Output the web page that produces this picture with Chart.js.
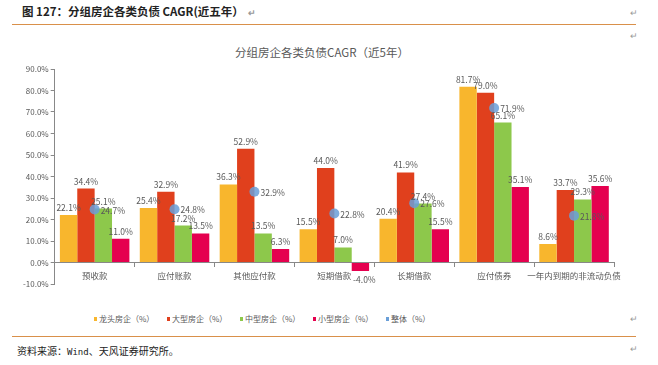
<!DOCTYPE html>
<html>
<head>
<meta charset="utf-8">
<script src="https://cdn.jsdelivr.net/npm/chart.js@4"></script>
<style>
  body { margin: 0; width: 658px; height: 365px; background: #fff; position: relative; overflow: hidden;
         font-family: "Noto Sans CJK SC", "Noto Sans", sans-serif; }
  .abs { position: absolute; }
  #head { left: 22px; top: 3px; font-size: 11.5px; font-weight: bold; color: #222; white-space: nowrap; }
  .ret { color: #999; font-size: 9px; }
  .rule { left: 12px; width: 624px; height: 1px; background: #D9904A; }
  #ctitle { left: 0; width: 644px; top: 44px; text-align: center; font-size: 11.5px; color: #595959; }
  #legend { top: 313px; left: 94px; display: flex; font-size: 8px; color: #595959; }
  #legend span.item { width: 73px; white-space: nowrap; }
  #legend i { display: inline-block; width: 3px; height: 4px; margin-right: 2px; vertical-align: 1px; }
  #src { left: 17px; top: 343px; font-size: 10px; color: #222; white-space: nowrap; }
  #src .m { font-family: "DejaVu Sans Mono", monospace; font-size: 9px; }
  #wrap { left: 0; top: 60px; width: 658px; height: 240px; }
</style>
</head>
<body>
<div id="head" class="abs">图 127：分组房企各类负债 CAGR(近五年）<span class="ret">&nbsp;&nbsp;↵</span></div>
<div class="abs ret" style="left:630px;top:6px">↵</div>
<div class="abs rule" style="top:24px"></div>
<div class="abs ret" style="left:630px;top:29px">↵</div>
<div id="ctitle" class="abs">分组房企各类负债CAGR（近5年）</div>
<div id="wrap" class="abs"><canvas id="myChart"></canvas></div>
<div id="legend" class="abs"></div>
<div class="abs ret" style="left:630px;top:312px">↵</div>
<div class="abs rule" style="top:336px"></div>
<div id="src" class="abs">资料来源：<span class="m">Wind</span>、天风证券研究所。</div>
<div class="abs ret" style="left:630px;top:342px">↵</div>
<script>
var categories = ['预收款', '应付账款', '其他应付款', '短期借款', '长期借款', '应付债券', '一年内到期的非流动负债'];
var seriesNames = ['龙头房企（%）', '大型房企（%）', '中型房企（%）', '小型房企（%）', '整体（%）'];
var leaders = [22.1, 25.4, 36.3, 15.5, 20.4, 81.7, 8.6];
var large = [34.4, 32.9, 52.9, 44.0, 41.9, 79.0, 33.7];
var medium = [25.1, 17.2, 13.5, 7.0, 27.4, 65.1, 29.3];
var small = [11.0, 13.5, 6.3, -4.0, 15.5, 35.1, 35.6];
var overall = [24.7, 24.8, 32.9, 22.8, 27.6, 71.9, 21.8];
var yTicks = [-10, 0, 10, 20, 30, 40, 50, 60, 70, 80, 90];

var colors = ['#F8B62D', '#E0401D', '#8DC84B', '#E5004F', '#6A9FD8'];
var labelColor = '#595959';

var valueLabels = {
    id: 'valueLabels',
    afterDatasetsDraw: function (chart) {
        var ctx = chart.ctx;
        ctx.save();
        ctx.font = '8.5px "Noto Sans CJK SC", sans-serif';
        ctx.fillStyle = labelColor;
        chart.data.datasets.forEach(function (ds, i) {
            var meta = chart.getDatasetMeta(i);
            meta.data.forEach(function (el, j) {
                var v = ds.data[j];
                var txt = v.toFixed(1) + '%';
                if (ds.type === 'line') {
                    ctx.textAlign = 'left';
                    ctx.textBaseline = 'middle';
                    ctx.fillText(txt, el.x + 6, el.y + 1);
                } else if (v < 0) {
                    ctx.textAlign = 'center';
                    ctx.textBaseline = 'top';
                    ctx.fillText(txt, el.x + 4, el.y + 4);
                } else {
                    ctx.textAlign = 'center';
                    ctx.textBaseline = 'bottom';
                    ctx.fillText(txt, el.x, el.y - 3);
                }
            });
        });
        ctx.restore();
    }
};

var barData = [leaders, large, medium, small];
var datasets = barData.map(function (d, i) {
    return {
        type: 'bar',
        label: seriesNames[i],
        data: d,
        backgroundColor: colors[i],
        categoryPercentage: 0.87,
        barPercentage: 1.0,
        order: 1
    };
});
datasets.push({
    type: 'line',
    label: seriesNames[4],
    data: overall,
    showLine: false,
    pointRadius: 5,
    pointHoverRadius: 5,
    pointBackgroundColor: 'rgba(106,159,216,0.85)',
    pointBorderWidth: 0,
    order: 0
});

var ctx = document.getElementById('myChart').getContext('2d');
var myChart = new Chart(ctx, {
    data: { labels: categories, datasets: datasets },
    plugins: [valueLabels],
    options: {
        responsive: true,
        maintainAspectRatio: false,
        animation: false,
        layout: { padding: { left: 21, right: 44, top: 9, bottom: 16 } },
        plugins: { legend: { display: false }, tooltip: { enabled: false } },
        scales: {
            x: {
                position: { y: 0 },
                offset: true,
                grid: { display: true, drawOnChartArea: false, offset: true, tickLength: 4, color: '#888' },
                border: { color: '#888' },
                ticks: {
                    color: labelColor,
                    font: { size: 8.5, family: '"Noto Sans CJK SC"' },
                    padding: 4,
                    maxRotation: 0,
                    minRotation: 0,
                    autoSkip: false
                }
            },
            y: {
                min: -10,
                max: 90,
                afterBuildTicks: function (axis) {
                    axis.ticks = yTicks.map(function (v) { return { value: v }; });
                },
                grid: { drawOnChartArea: false, tickLength: 4, color: '#888' },
                border: { color: '#888' },
                ticks: {
                    color: labelColor,
                    font: { size: 8, family: '"Noto Sans CJK SC"' },
                    padding: 2,
                    callback: function (v) { return v.toFixed(1) + '%'; }
                }
            }
        }
    }
});

var legend = document.getElementById('legend');
seriesNames.forEach(function (name, i) {
    var item = document.createElement('span');
    item.className = 'item';
    item.innerHTML = '<i style="background:' + colors[i] + '"></i>' + name;
    legend.appendChild(item);
});
</script>
</body>
</html>
